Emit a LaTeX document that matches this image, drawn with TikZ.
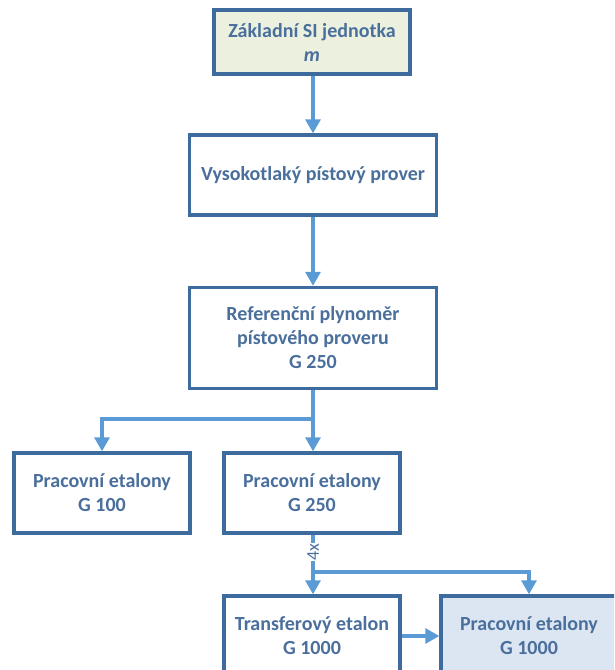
\documentclass[tikz,border=0pt]{standalone}
\usepackage{fontspec}
\setmainfont{Carlito}
\usetikzlibrary{arrows.meta}
\definecolor{boxline}{HTML}{3E6B9E}
\definecolor{arrowline}{HTML}{5B9BD5}
\definecolor{labeltext}{HTML}{4A6F9C}
\definecolor{greenfill}{HTML}{EBF1DE}
\definecolor{bluefill}{HTML}{DCE6F2}
\tikzset{
  stagebox/.style={draw=boxline, line width=3.4pt, fill=white, text=labeltext,
    font=\fontsize{20}{24}\selectfont\bfseries, align=center,
    minimum width=176pt, minimum height=80pt, inner sep=0pt},
  flow/.style={draw=arrowline, line width=3.2pt,
    -{Triangle[width=15pt,length=14pt]}},
  flowline/.style={draw=arrowline, line width=3.2pt},
}
\begin{document}
\begin{tikzpicture}[x=1pt,y=-1pt]
\useasboundingbox (0,0) rectangle (614,670);
\clip (0,0) rectangle (614,670);
% chain of standards
\node[stagebox, fill=greenfill, minimum width=196pt, minimum height=64pt] (si) at (312,42)
  {Základní SI jednotka\\\textit{m}};
\node[stagebox, minimum width=247pt, minimum height=80pt] (vys) at (313,175)
  {Vysokotlaký pístový prover};
\node[stagebox, minimum width=247pt, minimum height=101pt] (ref) at (313,338)
  {Referenční plynoměr\\pístového proveru\\G 250};
\node[stagebox] (g100) at (102,493) {Pracovní etalony\\G 100};
\node[stagebox] (g250) at (312,493) {Pracovní etalony\\G 250};
\node[stagebox] (trans) at (312,636) {Transferový etalon\\G 1000};
\node[stagebox, fill=bluefill] (g1000) at (529,636) {Pracovní etalony\\G 1000};
% junctions
\coordinate (split) at (313,419);
\coordinate (fork) at (313,572);
% connectors
\draw[flow] (si.south -| vys) -- (vys.north);
\draw[flow] (vys.south) -- (ref.north);
\draw[flowline] (ref.south) -- (split);
\draw[flow] (split) -| (g100.north);
\draw[flow] (split) -- (g250.north -| split);
\draw[flow] (g250.south -| fork) -- (trans.north -| fork);
\draw[flow] (fork) -| (g1000.north);
\draw[flow] (trans.east) -- (g1000.west);
% count of transfer standards
\node[fill=white, inner sep=0.5pt, rotate=90, text=labeltext,
  font=\fontsize{18}{18}\selectfont] (count) at (313,552) {4x};
\end{tikzpicture}
\end{document}
